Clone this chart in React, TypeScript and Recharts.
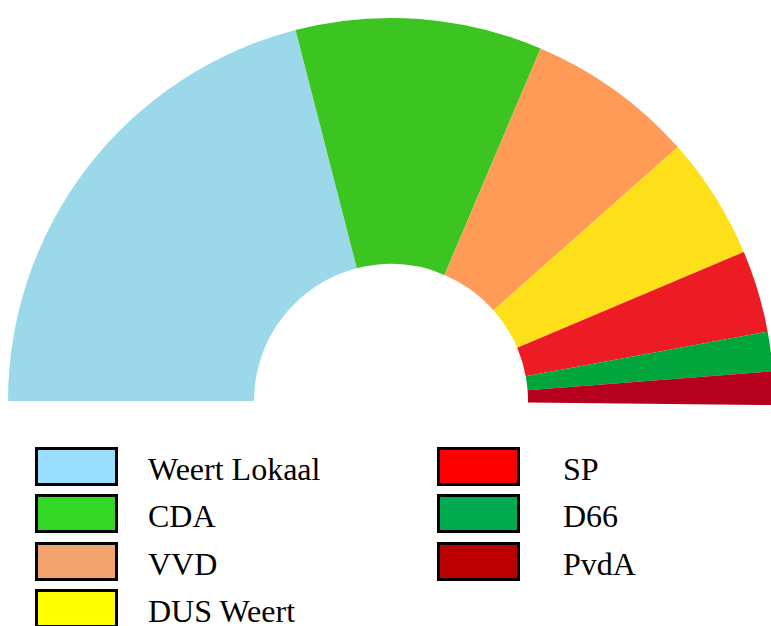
import { PieChart, Pie, Cell } from 'recharts';

const parties = ['Weert Lokaal', 'CDA', 'VVD', 'DUS Weert', 'SP', 'D66', 'PvdA'];
const shares = [41.8, 20.7, 14.1, 10.3, 6.9, 3.3, 2.8];
const sliceColors = ['#9bd9ea', '#3cc421', '#ff9b56', '#fde01a', '#ed1c24', '#00a53c', '#b5001e'];
const legendColors = ['#99ddff', '#33d826', '#f2a26c', '#ffff00', '#ff0000', '#00aa4f', '#bb0000'];

const data = parties.map((name, i) => ({ name, value: shares[i] }));

const LegendItem = ({ index, left, top }: { index: number; left: number; top: number }) => (
    <div style={{ position: 'absolute', left, top, height: 39 }}>
        <div
            style={{
                position: 'absolute',
                left: 0,
                top: 0,
                width: 77,
                height: 33,
                background: legendColors[index],
                border: '3px solid #000',
            }}
        />
        <div
            style={{
                position: 'absolute',
                left: left < 300 ? 113 : 126,
                top: 3,
                whiteSpace: 'nowrap',
                fontFamily: '"Liberation Serif", "Times New Roman", serif',
                fontSize: 32,
                lineHeight: '39px',
                color: '#000',
            }}
        >
            {parties[index]}
        </div>
    </div>
);

export default function App() {
    const rowTops = [447, 494, 542, 589];
    return (
        <div style={{ position: 'relative', width: 771, height: 626, background: '#fff', overflow: 'hidden' }}>
            <style>{`body{margin:0}`}</style>
            <PieChart
                width={771}
                height={420}
                margin={{ top: 0, right: 0, bottom: 0, left: 0 }}
                style={{ position: 'absolute', left: 0, top: 0 }}
            >
                <Pie
                    data={data}
                    dataKey="value"
                    cx={391}
                    cy={401}
                    innerRadius={137}
                    outerRadius={383}
                    startAngle={180}
                    endAngle={-0.6}
                    stroke="none"
                    isAnimationActive={false}
                >
                    {data.map((d, i) => (
                        <Cell key={d.name} fill={sliceColors[i]} />
                    ))}
                </Pie>
            </PieChart>
            {parties.map((p, i) =>
                i < 4 ? (
                    <LegendItem key={p} index={i} left={35} top={rowTops[i]} />
                ) : (
                    <LegendItem key={p} index={i} left={437} top={rowTops[i - 4]} />
                )
            )}
        </div>
    );
}
